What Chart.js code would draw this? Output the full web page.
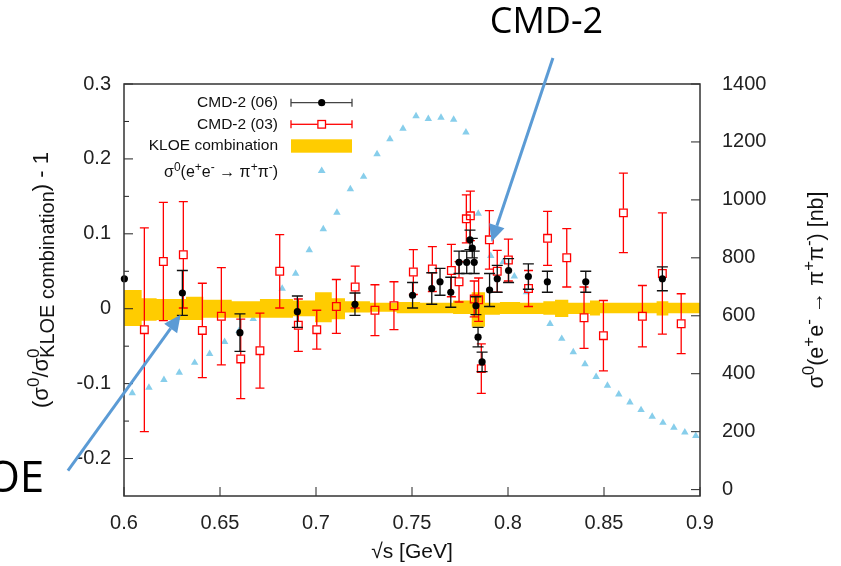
<!DOCTYPE html>
<html lang="en">
<head>
<meta charset="UTF-8">
<title>CMD-2 vs KLOE combination</title>
<script src="https://cdn.jsdelivr.net/npm/chart.js"></script>
<style>
  html, body { margin: 0; padding: 0; background: #fff; }
  #chart { display: block; }
</style>
</head>
<body>
<canvas id="chart" width="841" height="566"></canvas>
<script>
// CMD-2 (06): sqrt(s) [GeV], relative difference, error
const cmd06X = [0.6002, 0.6304, 0.6604, 0.6903, 0.7203, 0.7503, 0.7603, 0.7646, 0.7702, 0.7745, 0.7785, 0.7802,
                0.7814, 0.7824, 0.7833, 0.7844, 0.7865, 0.7904, 0.7944, 0.8003, 0.8106, 0.8205, 0.8405, 0.8804];
const cmd06Y = [0.040, 0.021, -0.032, -0.004, 0.006, 0.018, 0.027, 0.036, 0.022, 0.062, 0.062, 0.092,
                0.081, 0.062, 0.004, -0.038, -0.071, 0.025, 0.040, 0.051, 0.043, 0.036, 0.036, 0.040];
const cmd06Err = [0, 0.030, 0.025, 0.021, 0.015, 0.017, 0.021, 0.018, 0.020, 0.015, 0.015, 0.013,
                  0.013, 0.015, 0.012, 0.013, 0.013, 0.022, 0.018, 0.016, 0.017, 0.014, 0.014, 0.016];

// CMD-2 (03)
const cmd03X = [0.6106, 0.6205, 0.6309, 0.6408, 0.6507, 0.6608, 0.6708, 0.6811, 0.6908, 0.7004, 0.7106, 0.7204,
                0.7307, 0.7406, 0.7507, 0.7606, 0.7705, 0.7745, 0.7783, 0.7804, 0.7824, 0.7847, 0.7861, 0.7903,
                0.7944, 0.8002, 0.8107, 0.8206, 0.8306, 0.8396, 0.8497, 0.8601, 0.8700, 0.8804, 0.8902];
const cmd03Y = [-0.028, 0.063, 0.072, -0.029, -0.010, -0.067, -0.056, 0.050, -0.022, -0.028, 0.003, 0.029,
                -0.002, 0.004, 0.049, 0.053, 0.051, 0.036, 0.120, 0.124, 0.013, 0.012, -0.080, 0.092,
                0.050, 0.065, 0.027, 0.094, 0.068, -0.012, -0.036, 0.128, -0.010, 0.047, -0.020];
const cmd03Err = [0.136, 0.079, 0.071, 0.063, 0.065, 0.053, 0.050, 0.049, 0.035, 0.026, 0.036, 0.028,
                  0.034, 0.032, 0.030, 0.030, 0.035, 0.027, 0.032, 0.033, 0.024, 0.029, 0.033, 0.039,
                  0.028, 0.028, 0.024, 0.036, 0.039, 0.041, 0.047, 0.053, 0.041, 0.081, 0.040];

// KLOE combination band: bin edges and upper/lower edge of the band
const kloeEdges = [0.6, 0.6092, 0.6170, 0.6323, 0.6413, 0.6561, 0.6708, 0.6880, 0.6995, 0.7082, 0.7151, 0.7281,
                   0.7420, 0.7542, 0.7714, 0.7811, 0.7880, 0.7958, 0.8063, 0.8184, 0.8245, 0.8314, 0.8427, 0.8479,
                   0.8600, 0.8774, 0.8835, 0.9];
const kloeHi = [0.025, 0.014, 0.013, 0.016, 0.012, 0.010, 0.013, 0.011, 0.022, 0.014, 0.010, 0.008, 0.009,
                0.008, 0.011, 0.022, 0.008, 0.009, 0.008, 0.010, 0.012, 0.008, 0.011, 0.008, 0.008, 0.010, 0.008];
const kloeLo = [-0.023, -0.016, -0.015, -0.015, -0.012, -0.012, -0.012, -0.010, -0.018, -0.014, -0.005, -0.004, -0.006,
                -0.006, -0.007, -0.024, -0.008, -0.007, -0.007, -0.008, -0.011, -0.007, -0.009, -0.006, -0.006, -0.009, -0.006];

// bare cross section sigma0(ee->pipi) [nb], right axis
const xsecX = [0.6043, 0.6130, 0.6208, 0.6288, 0.6368, 0.6446, 0.6524, 0.6599, 0.6673, 0.6750, 0.6824, 0.6894,
               0.6965, 0.7038, 0.7109, 0.7179, 0.7248, 0.7318, 0.7385, 0.7453, 0.7521, 0.7585, 0.7651, 0.7717,
               0.7781, 0.7845, 0.7910, 0.7975, 0.8033, 0.8096, 0.8156, 0.8219, 0.8280, 0.8340, 0.8401, 0.8459,
               0.8518, 0.8577, 0.8635, 0.8693, 0.8751, 0.8807, 0.8864, 0.8921, 0.8978];
const xsecY = [333, 352, 379, 404, 438, 469, 510, 548, 589, 641, 694, 746,
               827, 899, 956, 1037, 1080, 1158, 1210, 1246, 1289, 1280, 1284, 1277,
               1233, 953, 807, 786, 736, 682, 628, 572, 521, 475, 433, 389,
               359, 329, 301, 275, 252, 231, 214, 198, 186];

// axes
const xTicks = [0.6, 0.65, 0.7, 0.75, 0.8, 0.85, 0.9];
const xTickLabels = ['0.6', '0.65', '0.7', '0.75', '0.8', '0.85', '0.9'];
const yTicks = [-0.2, -0.1, 0, 0.1, 0.2, 0.3];
const yTickLabels = ['-0.2', '-0.1', '0', '0.1', '0.2', '0.3'];
const yMinorTicks = [-0.15, -0.05, 0.05, 0.15, 0.25];
const y2Ticks = [0, 200, 400, 600, 800, 1000, 1200, 1400];
const y2TickLabels = ['0', '200', '400', '600', '800', '1000', '1200', '1400'];

// slide annotations (data coordinates): arrows and their labels
const cmdArrow = [[0.8234, 0.3347], [0.7914, 0.0893]];
const kloeArrow = [[0.5708, -0.216], [0.6295, -0.008]];
const cmdLabel = [0.7905, 0.3676];
const kloeLabel = [0.5585, -0.2453];

const FONT = '"Liberation Sans", Arial, Helvetica, sans-serif';
const pts = (xs, ys) => xs.map((x, i) => ({ x: x, y: ys[i] }));
const steps = (edges, vals) => edges.map((x, i) => ({ x: x, y: vals[Math.min(i, vals.length - 1)] }));

// text with super/subscripts; parts: {t, m: 'n'|'sup'|'sub', back}
function drawRich(ctx, parts, x, y, angle, align, size, subScale) {
  ctx.save();
  ctx.translate(x, y);
  ctx.rotate(angle);
  let pos = 0, prevStart = 0;
  const laid = parts.map(p => {
    const s = p.m === 'n' ? size : Math.round(size * (p.m === 'sub' && subScale ? subScale : 0.78));
    const font = s + 'px ' + FONT;
    ctx.font = font;
    const w = ctx.measureText(p.t).width;
    const start = p.back ? prevStart : pos;
    prevStart = start;
    pos = Math.max(pos, start + w);
    const dy = p.m === 'sup' ? -size * 0.4 : (p.m === 'sub' ? size * 0.28 : 0);
    return { t: p.t, font: font, start: start, dy: dy };
  });
  const off = align === 'right' ? -pos : (align === 'center' ? -pos / 2 : 0);
  ctx.textAlign = 'left';
  ctx.textBaseline = 'alphabetic';
  ctx.fillStyle = '#111';
  laid.forEach(p => { ctx.font = p.font; ctx.fillText(p.t, off + p.start, p.dy); });
  ctx.restore();
}

const N = t => ({ t: t, m: 'n' });
const SUP = t => ({ t: t, m: 'sup' });
const SUB = t => ({ t: t, m: 'sub', back: true });
const xsecText = [N('σ'), SUP('0'), N('(e'), SUP('+'), N('e'), SUP('-'), N(' → π'), SUP('+'), N('π'), SUP('-'), N(')')];
const leftTitle = [N('(σ'), SUP('0'), N('/σ'), SUP('0'), SUB('KLOE combination'), N(') - 1')];
const rightTitle = xsecText.concat([N(' [nb]')]);

function line(ctx, x1, y1, x2, y2) {
  ctx.beginPath(); ctx.moveTo(x1, y1); ctx.lineTo(x2, y2); ctx.stroke();
}

function errorBar(ctx, px, top, mid, bot, gap, cap) {
  ctx.beginPath();
  ctx.moveTo(px, top); ctx.lineTo(px, Math.min(mid - gap, bot));
  ctx.moveTo(px, Math.max(mid + gap, top)); ctx.lineTo(px, bot);
  ctx.moveTo(px - cap, top); ctx.lineTo(px + cap, top);
  ctx.moveTo(px - cap, bot); ctx.lineTo(px + cap, bot);
  ctx.stroke();
}

const errorBars = {
  id: 'errorBars',
  beforeDatasetDraw(chart, args) {
    const ds = chart.data.datasets[args.index];
    if (!ds.errors) return;
    const ctx = chart.ctx, xs = chart.scales.x, ys = chart.scales.y;
    ctx.save();
    ctx.strokeStyle = ds.errColor;
    ctx.lineWidth = 1.3;
    ds.data.forEach((p, i) => {
      const e = ds.errors[i];
      if (!e) return;
      errorBar(ctx, xs.getPixelForValue(p.x), ys.getPixelForValue(p.y + e),
               ys.getPixelForValue(p.y), ys.getPixelForValue(p.y - e), ds.errGap, ds.errCap);
    });
    ctx.restore();
  }
};

function arrow(ctx, x1, y1, x2, y2) {
  const a = Math.atan2(y2 - y1, x2 - x1), L = 17, W = 8;
  const bx = x2 - L * Math.cos(a), by = y2 - L * Math.sin(a);
  line(ctx, x1, y1, bx, by);
  ctx.beginPath();
  ctx.moveTo(x2, y2);
  ctx.lineTo(bx + W * Math.sin(a), by - W * Math.cos(a));
  ctx.lineTo(bx - W * Math.sin(a), by + W * Math.cos(a));
  ctx.closePath();
  ctx.fill();
}

const decor = {
  id: 'decor',
  afterDatasetsDraw(chart) {
    const ctx = chart.ctx, a = chart.chartArea;
    const xs = chart.scales.x, ys = chart.scales.y, y2 = chart.scales.y2;
    ctx.save();
    ctx.strokeStyle = '#222';
    ctx.lineWidth = 1;
    yTicks.forEach(v => { const p = ys.getPixelForValue(v); line(ctx, a.left, p, a.left + 9, p); });
    yMinorTicks.forEach(v => { const p = ys.getPixelForValue(v); line(ctx, a.left, p, a.left + 5, p); });
    y2Ticks.forEach(v => { const p = y2.getPixelForValue(v); line(ctx, a.right, p, a.right - 9, p); });
    xTicks.forEach(v => { const p = xs.getPixelForValue(v); line(ctx, p, a.bottom, p, a.bottom - 9); });
    ctx.lineWidth = 1.5;
    ctx.strokeStyle = '#333';
    ctx.strokeRect(a.left, a.top, a.right - a.left, a.bottom - a.top);
    ctx.restore();
  },
  afterDraw(chart) {
    const ctx = chart.ctx, a = chart.chartArea;
    const xs = chart.scales.x, ys = chart.scales.y;
    ctx.save();

    // axis titles
    drawRich(ctx, leftTitle, 48, 280, -Math.PI / 2, 'center', 22, 0.92);
    drawRich(ctx, rightTitle, 823, 290, -Math.PI / 2, 'center', 21.5);
    ctx.font = '21px ' + FONT;
    ctx.fillStyle = '#111';
    ctx.textAlign = 'center';
    ctx.textBaseline = 'alphabetic';
    ctx.fillText('√s [GeV]', (a.left + a.right) / 2, 558);

    // key
    const tx = 278, sx1 = 291, sx2 = 352, sxm = 321.7;
    const rows = [102.7, 124.3, 146, 171];
    ctx.font = '15.5px ' + FONT;
    ctx.textAlign = 'right';
    ctx.textBaseline = 'middle';
    ctx.fillText('CMD-2 (06)', tx, rows[0]);
    ctx.fillText('CMD-2 (03)', tx, rows[1]);
    ctx.fillText('KLOE combination', tx, rows[2]);
    drawRich(ctx, xsecText, tx, rows[3] + 6, 0, 'right', 16);

    ctx.lineWidth = 1.3;
    ctx.strokeStyle = '#444';
    line(ctx, sx1, rows[0], sx2, rows[0]);
    line(ctx, sx1, rows[0] - 4, sx1, rows[0] + 4);
    line(ctx, sx2, rows[0] - 4, sx2, rows[0] + 4);
    ctx.fillStyle = '#000';
    ctx.beginPath(); ctx.arc(sxm, rows[0], 3.6, 0, Math.PI * 2); ctx.fill();

    ctx.strokeStyle = '#ff0000';
    line(ctx, sx1, rows[1], sxm - 4, rows[1]);
    line(ctx, sxm + 4, rows[1], sx2, rows[1]);
    line(ctx, sx1, rows[1] - 4, sx1, rows[1] + 4);
    line(ctx, sx2, rows[1] - 4, sx2, rows[1] + 4);
    ctx.strokeRect(sxm - 3.8, rows[1] - 3.8, 7.6, 7.6);

    ctx.fillStyle = '#ffcc00';
    ctx.fillRect(sx1, rows[2] - 6.7, sx2 - sx1, 13.4);

    ctx.fillStyle = '#87ceeb';
    ctx.beginPath();
    ctx.moveTo(sxm, rows[3] - 4.5);
    ctx.lineTo(sxm + 3.9, rows[3] + 2);
    ctx.lineTo(sxm - 3.9, rows[3] + 2);
    ctx.closePath(); ctx.fill();

    // slide annotations
    ctx.strokeStyle = '#5b9bd5';
    ctx.fillStyle = '#5b9bd5';
    ctx.lineWidth = 3;
    [cmdArrow, kloeArrow].forEach(ar => {
      arrow(ctx, xs.getPixelForValue(ar[0][0]), ys.getPixelForValue(ar[0][1]),
            xs.getPixelForValue(ar[1][0]), ys.getPixelForValue(ar[1][1]));
    });
    ctx.fillStyle = '#000';
    ctx.textBaseline = 'alphabetic';
    ctx.font = '36px "Open Sans", sans-serif';
    ctx.textAlign = 'left';
    ctx.fillText('CMD-2', xs.getPixelForValue(cmdLabel[0]), ys.getPixelForValue(cmdLabel[1]));
    ctx.font = '44px "Open Sans", sans-serif';
    ctx.textAlign = 'right';
    ctx.fillText('KLOE', xs.getPixelForValue(kloeLabel[0]), ys.getPixelForValue(kloeLabel[1]));
    ctx.restore();
  }
};

const tickFont = { family: FONT, size: 20 };

new Chart(document.getElementById('chart'), {
  type: 'scatter',
  data: {
    datasets: [
      {
        label: 'CMD-2 (06)', data: pts(cmd06X, cmd06Y), errors: cmd06Err,
        errColor: '#111', errGap: 0, errCap: 5.5,
        pointStyle: 'circle', pointRadius: 3.6, backgroundColor: '#000', borderColor: '#000', borderWidth: 0,
        clip: 10, order: 1
      },
      {
        label: 'CMD-2 (03)', data: pts(cmd03X, cmd03Y), errors: cmd03Err,
        errColor: '#ff0000', errGap: 4.2, errCap: 4.5,
        pointStyle: 'rect', pointRadius: 5.4, backgroundColor: 'rgba(255,255,255,0)', borderColor: '#ff0000', borderWidth: 1.3,
        order: 2
      },
      {
        label: 'KLOE combination', type: 'line', data: steps(kloeEdges, kloeHi), stepped: 'before',
        borderColor: 'rgba(0,0,0,0)', borderWidth: 0, pointRadius: 0, backgroundColor: '#ffcc00', fill: '+1', order: 5
      },
      {
        label: 'KLOE lower', type: 'line', data: steps(kloeEdges, kloeLo), stepped: 'before',
        borderColor: 'rgba(0,0,0,0)', borderWidth: 0, pointRadius: 0, fill: false, order: 5
      },
      {
        label: 'sigma0', data: pts(xsecX, xsecY), yAxisID: 'y2',
        pointStyle: 'triangle', pointRadius: 4.3, backgroundColor: '#87ceeb', borderColor: '#87ceeb', borderWidth: 0,
        order: 6
      }
    ]
  },
  options: {
    responsive: false,
    animation: false,
    events: [],
    layout: { padding: { top: 84, left: 0, right: 0, bottom: 0 } },
    plugins: { legend: { display: false }, tooltip: { enabled: false } },
    scales: {
      x: {
        type: 'linear', min: 0.6, max: 0.9,
        grid: { display: false, drawTicks: false }, border: { display: false },
        afterBuildTicks: s => { s.ticks = xTicks.map(v => ({ value: v })); },
        afterFit: s => { s.height = 70; },
        ticks: { autoSkip: false, maxRotation: 0, padding: 15, color: '#222', font: tickFont,
                 callback: (v, i) => xTickLabels[i] }
      },
      y: {
        position: 'left', min: -0.25, max: 0.3,
        grid: { display: false, drawTicks: false }, border: { display: false },
        afterBuildTicks: s => { s.ticks = yTicks.map(v => ({ value: v })); },
        afterFit: s => { s.width = 124; },
        ticks: { autoSkip: false, padding: 13, color: '#222', font: tickFont,
                 callback: (v, i) => yTickLabels[i] }
      },
      y2: {
        position: 'right', min: -22, max: 1400,
        grid: { display: false, drawTicks: false }, border: { display: false },
        afterBuildTicks: s => { s.ticks = y2Ticks.map(v => ({ value: v })); },
        afterFit: s => { s.width = 141; },
        ticks: { autoSkip: false, padding: 22, color: '#222', font: tickFont,
                 callback: (v, i) => y2TickLabels[i] }
      }
    }
  },
  plugins: [errorBars, decor]
});
</script>
</body>
</html>
